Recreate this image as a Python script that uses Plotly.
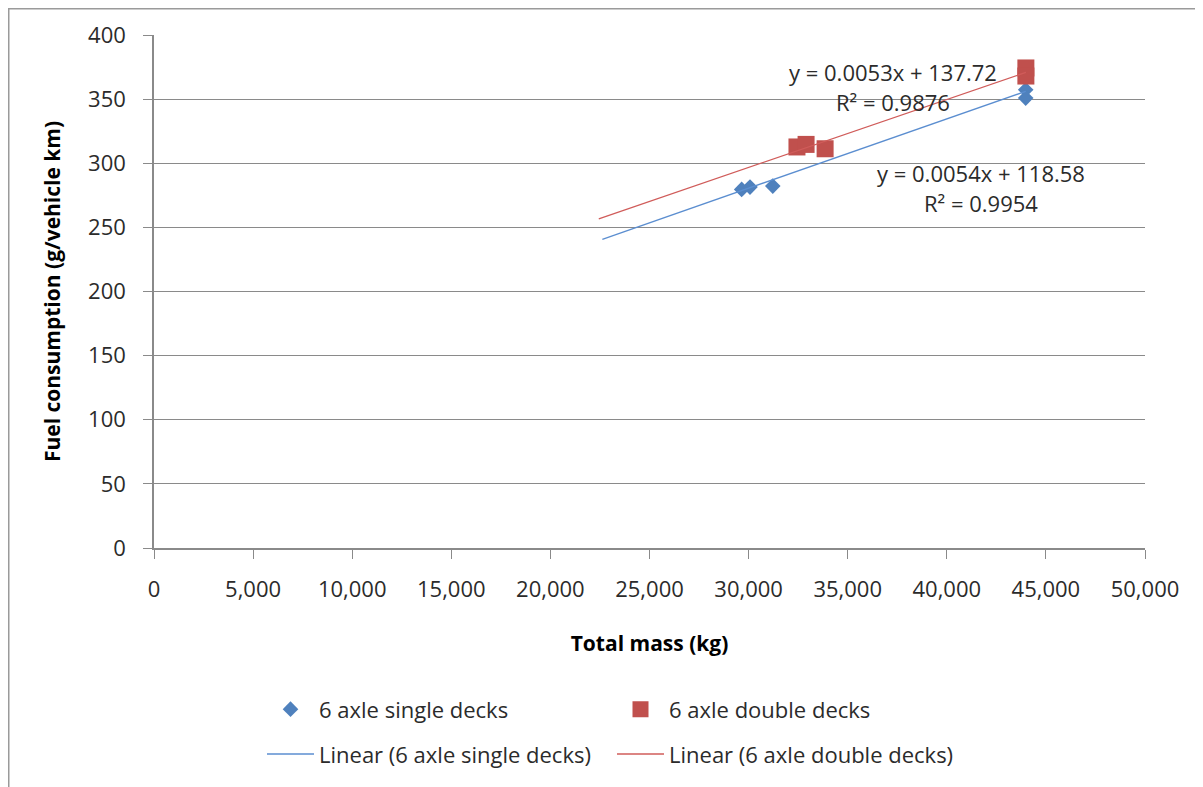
import plotly.graph_objects as go

# Data
single_mass = [29650, 30070, 31220, 43980, 43980]
single_fuel = [279.6, 281.4, 282.2, 357.3, 350.8]
double_mass = [32440, 32900, 33860, 43990, 43990]
double_fuel = [312.7, 314.7, 311.3, 374.3, 368.0]

# Trendline coefficients (from the chart labels) and drawn x-range
single_slope, single_intercept = 0.0054, 118.58
double_slope, double_intercept = 0.0053, 137.72
single_trend_x = [22620, 43980]
double_trend_x = [22440, 43990]

x_ticks = [0, 5000, 10000, 15000, 20000, 25000, 30000, 35000, 40000, 45000, 50000]
y_ticks = [0, 50, 100, 150, 200, 250, 300, 350, 400]

BLUE = "#4F81BD"
RED = "#C0504D"
FONT = "Open Sans"
TXT = "#2b2b2b"
GRID = "#8A8A8A"

# figure geometry (page has an 8px body margin)
W, H = 1195, 779
L, R, T, B = 146, 58, 27, 237
PW, PH = W - L - R, H - T - B

fig = go.Figure()
fig.add_trace(go.Scatter(
    x=single_mass, y=single_fuel, mode="markers", name="6 axle single decks",
    marker=dict(symbol="diamond", size=12, color=BLUE), legend="legend"))
fig.add_trace(go.Scatter(
    x=double_mass, y=double_fuel, mode="markers", name="6 axle double decks",
    marker=dict(symbol="square", size=17, color=RED), legend="legend"))
fig.add_trace(go.Scatter(
    x=single_trend_x, y=[single_slope * v + single_intercept for v in single_trend_x],
    mode="lines", name="Linear (6 axle single decks)",
    line=dict(color="#5B8ED0", width=1.3), legend="legend2"))
fig.add_trace(go.Scatter(
    x=double_trend_x, y=[double_slope * v + double_intercept for v in double_trend_x],
    mode="lines", name="Linear (6 axle double decks)",
    line=dict(color="#D05C5A", width=1.3), legend="legend2"))

ann_font = dict(family=FONT, size=22, color=TXT)
fig.add_annotation(x=37295, y=371.2, text=f"y = {double_slope}x + {double_intercept}",
                   showarrow=False, font=ann_font)
fig.add_annotation(x=37295, y=347.8, text="R² = 0.9876", showarrow=False, font=ann_font)
fig.add_annotation(x=41736, y=292.7, text=f"y = {single_slope}x + {single_intercept}",
                   showarrow=False, font=ann_font)
fig.add_annotation(x=41736, y=269.3, text="R² = 0.9954", showarrow=False, font=ann_font)

# outer chart frame
fig.add_shape(type="rect", xref="paper", yref="paper",
              x0=(0.5 - L) / PW, x1=(W + 20 - L) / PW,
              y0=-(H + 20 - T - PH) / PH, y1=1 + (T - 0.5) / PH,
              line=dict(color="#9A9A9A", width=2), layer="below")

leg_font = dict(family=FONT, size=22, color=TXT)
fig.update_layout(
    width=W, height=H,
    margin=dict(l=L, r=R, t=T, b=B),
    paper_bgcolor="white", plot_bgcolor="white",
    font=dict(family=FONT, size=22, color=TXT),
    xaxis=dict(range=[0, 50000], tickvals=x_ticks, tickformat=",d",
               showgrid=False, zeroline=False, showline=True, linecolor=GRID,
               linewidth=1.5, ticks="outside", ticklen=9, tickcolor=GRID,
               ticklabelstandoff=12,
               tickfont=dict(family=FONT, size=22, color=TXT),
               title=dict(text="<b>Total mass (kg)</b>", standoff=34,
                          font=dict(family=FONT, size=21, color="#000"))),
    yaxis=dict(range=[0, 400], tickvals=y_ticks,
               showgrid=True, gridcolor=GRID, gridwidth=1.2, zeroline=False,
               showline=True, linecolor=GRID, linewidth=1.5,
               ticks="outside", ticklen=9, tickcolor=GRID, ticklabelstandoff=13,
               tickfont=dict(family=FONT, size=22, color=TXT),
               title=dict(text="<b>Fuel consumption (g/vehicle km)</b>", standoff=22,
                          font=dict(family=FONT, size=21, color="#000"))),
    legend=dict(orientation="h", x=(254 - L) / PW, xanchor="left",
                y=(T + PH - 704) / PH, yanchor="middle", entrywidth=288,
                entrywidthmode="pixels", itemwidth=47, font=leg_font,
                bgcolor="rgba(0,0,0,0)"),
    legend2=dict(orientation="h", x=(254 - L) / PW, xanchor="left",
                 y=(T + PH - 749) / PH, yanchor="middle", entrywidth=288,
                 entrywidthmode="pixels", itemwidth=47, font=leg_font,
                 bgcolor="rgba(0,0,0,0)"),
)

fig.write_html("out.html")
